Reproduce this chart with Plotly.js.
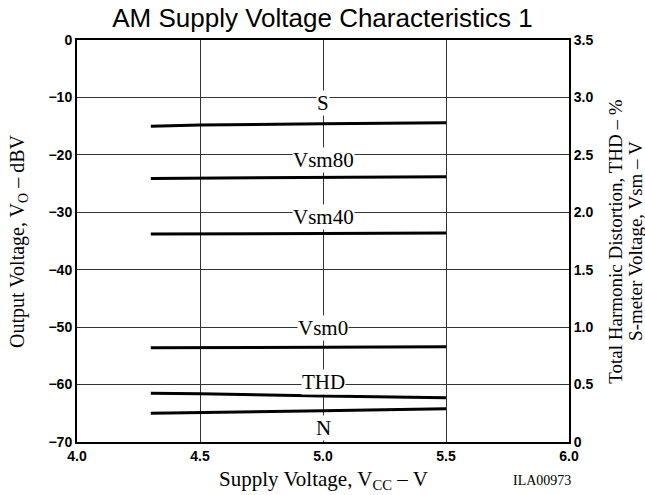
<!DOCTYPE html>
<html>
<head>
<meta charset="utf-8">
<script src="https://cdn.plot.ly/plotly-3.0.1.min.js"></script>
<style>html,body{margin:0;padding:0;background:#fff;}#chart{width:645px;height:495px;}</style>
</head>
<body>
<div id="chart"></div>
<script>
// Supply voltage (V)
const vcc = [4.3, 4.5, 5.0, 5.5];
// Output voltages (dBV, left axis)
const S_dBV = [-15.0, -14.8, -14.6, -14.4];
const N_dBV = [-65.0, -64.9, -64.55, -64.2];
// S-meter voltages (V, right axis)
const vsm80 = [2.295, 2.298, 2.305, 2.31];
const vsm40 = [1.81, 1.81, 1.815, 1.82];
const vsm0 = [0.82, 0.82, 0.825, 0.83];
// THD (%, right axis)
const thd = [0.425, 0.42, 0.40, 0.385];

const xTicks = [4.0, 4.5, 5.0, 5.5, 6.0];
const xTickText = ['4.0', '4.5', '5.0', '5.5', '6.0'];
const yTicks = [0, -10, -20, -30, -40, -50, -60, -70];
const yTickText = ['0', '\u221210', '\u221220', '\u221230', '\u221240', '\u221250', '\u221260', '\u221270'];
const y2Ticks = [0, 0.5, 1.0, 1.5, 2.0, 2.5, 3.0, 3.5];
const y2TickText = ['0', '0.5', '1.0', '1.5', '2.0', '2.5', '3.0', '3.5'];

const curveLabels = ['S', 'Vsm80', 'Vsm40', 'Vsm0', 'THD', 'N'];
const labelY = [-11.0, -20.9, -30.8, -50.1, -59.5, -67.6];

const lineStyle = {color: '#000', width: 3};
const traces = [
  {x: vcc, y: S_dBV, yaxis: 'y'},
  {x: vcc, y: vsm80, yaxis: 'y2'},
  {x: vcc, y: vsm40, yaxis: 'y2'},
  {x: vcc, y: vsm0, yaxis: 'y2'},
  {x: vcc, y: thd, yaxis: 'y2'},
  {x: vcc, y: N_dBV, yaxis: 'y'}
].map((t, i) => Object.assign(t, {type: 'scatter', mode: 'lines', line: lineStyle, name: curveLabels[i], hoverinfo: 'skip'}));

const serif = 'Liberation Serif, Times New Roman, serif';
const sans = 'Liberation Sans, Arial, sans-serif';

const annotations = curveLabels.map((lab, i) => ({
  x: 5.0, y: labelY[i], xref: 'x', yref: 'y', text: lab, showarrow: false,
  font: {family: serif, size: 21, color: '#000'}, bgcolor: '#fff', borderpad: 0,
  xanchor: 'center', yanchor: 'middle'
}));
annotations.push(
  {xref: 'paper', yref: 'paper', x: -0.12, y: 0.5, text: 'Output Voltage, V<sub>O</sub> \u2013 dBV', textangle: -90,
   showarrow: false, font: {family: serif, size: 20, color: '#000'}, xanchor: 'center', yanchor: 'middle'},
  {xref: 'paper', yref: 'paper', x: 1.093, y: 0.5, text: 'Total Harmonic Distortion, THD \u2013 %', textangle: -90,
   showarrow: false, font: {family: serif, size: 19, color: '#000'}, xanchor: 'center', yanchor: 'middle'},
  {xref: 'paper', yref: 'paper', x: 1.134, y: 0.5, text: 'S-meter Voltage, Vsm \u2013 V', textangle: -90,
   showarrow: false, font: {family: serif, size: 19, color: '#000'}, xanchor: 'center', yanchor: 'middle'},
  {xref: 'paper', yref: 'paper', x: 0.5, y: -0.058, text: 'Supply Voltage, V<sub>CC</sub> \u2013 V',
   showarrow: false, font: {family: serif, size: 21, color: '#000'}, xanchor: 'center', yanchor: 'top'},
  {xref: 'paper', yref: 'paper', x: 0.945, y: -0.072, text: 'ILA00973',
   showarrow: false, font: {family: serif, size: 14, color: '#000'}, xanchor: 'center', yanchor: 'top'}
);

const layout = {
  width: 645, height: 495,
  margin: {l: 77, r: 76, t: 40, b: 53},
  paper_bgcolor: '#fff', plot_bgcolor: '#fff',
  showlegend: false,
  title: {text: 'AM Supply Voltage Characteristics 1', font: {family: sans, size: 26, color: '#000'},
          x: 0.5, xanchor: 'center', y: 0.963, yanchor: 'middle'},
  xaxis: {range: [4.0, 6.0], tickvals: xTicks, ticktext: xTickText, showgrid: true, gridcolor: '#333', gridwidth: 1,
          zeroline: false, showline: true, linecolor: '#000', linewidth: 2, mirror: true, ticks: '',
          tickfont: {family: sans, size: 14, color: '#000', weight: 'bold'}},
  yaxis: {range: [-70, 0], tickvals: yTicks, ticktext: yTickText, showgrid: true, gridcolor: '#333', gridwidth: 1,
          zeroline: false, showline: true, linecolor: '#000', linewidth: 2, mirror: true, ticks: '',
          tickfont: {family: sans, size: 14, color: '#000', weight: 'bold'}},
  yaxis2: {range: [0, 3.5], overlaying: 'y', side: 'right', tickvals: y2Ticks, ticktext: y2TickText,
           showgrid: false, zeroline: false, showline: true, linecolor: '#000', linewidth: 2, ticks: '',
           tickfont: {family: sans, size: 14, color: '#000', weight: 'bold'}},
  annotations: annotations
};

Plotly.newPlot('chart', traces, layout, {staticPlot: true, displayModeBar: false});
</script>
</body>
</html>
